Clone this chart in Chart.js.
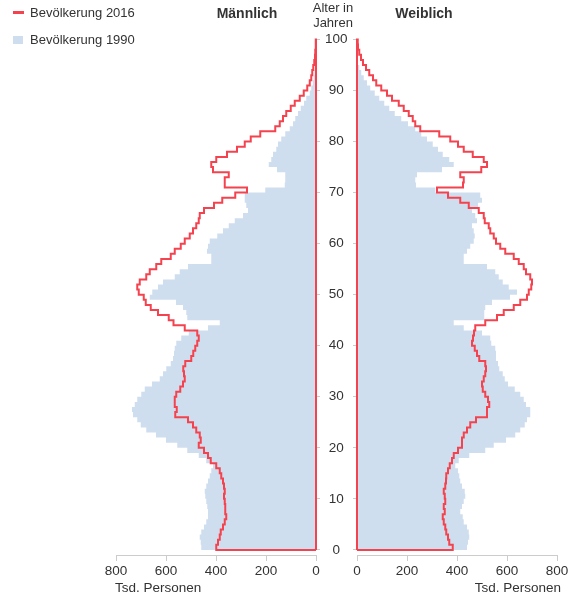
<!DOCTYPE html>
<html><head><meta charset="utf-8">
<script src="https://cdn.jsdelivr.net/npm/chart.js@4/dist/chart.umd.min.js"></script>
<style>
body{margin:0;background:#fff;}
#wrap{position:relative;width:571px;height:595px;font-family:"Liberation Sans",Arial,sans-serif;color:#333;overflow:hidden;}
canvas{position:absolute;left:0;top:0;}
.t{position:absolute;white-space:nowrap;font-size:13px;line-height:16px;}
.c{transform:translateX(-50%);}
.b{font-weight:bold;font-size:14px;}
</style></head><body>
<div id="wrap">
<canvas id="left" width="571" height="595"></canvas>
<canvas id="right" width="571" height="595"></canvas>
<div style="position:absolute;left:13px;top:11px;width:11px;height:3px;background:rgb(244,67,78)"></div>
<div class="t" style="left:30px;top:5px;">Bevölkerung 2016</div>
<div style="position:absolute;left:13px;top:36px;width:10px;height:8px;background:rgb(207,222,238)"></div>
<div class="t" style="left:30px;top:32px;">Bevölkerung 1990</div>
<div class="t b c" style="left:247px;top:5px;">Männlich</div>
<div class="t b c" style="left:424px;top:5px;">Weiblich</div>
<div class="t c" style="left:333px;top:0px;">Alter in</div>
<div class="t c" style="left:333px;top:15px;">Jahren</div>
<div class="t" style="left:115px;top:580px;font-size:13.5px;">Tsd. Personen</div>
<div class="t" style="right:10px;top:580px;font-size:13.5px;">Tsd. Personen</div>
</div>
<script>
// Age categories (years)
const ages = [0,1,2,3,4,5,6,7,8,9,10,11,12,13,14,15,16,17,18,19,20,21,22,23,24,25,26,27,28,29,30,31,32,33,34,35,36,37,38,39,40,41,42,43,44,45,46,47,48,49,50,51,52,53,54,55,56,57,58,59,60,61,62,63,64,65,66,67,68,69,70,71,72,73,74,75,76,77,78,79,80,81,82,83,84,85,86,87,88,89,90,91,92,93,94,95,96,97,98,99];
const topAge = 100;
// Values in thousand persons, index = age
const male2016 = [399,392,385,381,372,365,359,363,363,365,368,365,368,372,379,385,399,421,432,448,469,461,465,479,492,512,563,557,565,565,559,543,532,525,528,531,523,499,491,483,475,469,475,525,570,589,632,661,681,689,709,715,705,679,665,639,619,581,565,541,525,505,492,479,469,465,448,408,375,323,276,365,365,349,412,419,399,356,316,285,261,223,163,145,132,119,101,85,65,49,35,25,19,15,11,7,4,3,1,1];
const male1990 = [459,461,465,459,448,439,432,432,435,439,443,445,439,432,425,419,412,439,469,515,555,600,640,679,701,715,732,736,725,715,699,685,656,625,612,599,581,572,568,565,559,539,509,432,385,515,519,532,560,665,655,632,612,565,545,512,419,419,436,432,425,395,372,349,325,292,272,279,285,285,203,125,123,123,156,189,179,172,159,152,139,123,105,92,83,72,61,48,39,25,19,13,9,6,4,3,2,1,1,0];
const female2016 = [383,369,364,357,353,347,343,351,347,353,351,347,353,356,357,364,371,380,387,404,420,420,427,440,453,476,520,520,529,524,513,503,500,507,513,516,513,489,480,471,460,464,468,473,513,560,587,627,653,680,687,697,700,693,676,667,647,627,593,573,556,547,533,527,511,507,487,447,413,364,320,424,427,413,497,520,507,463,427,404,373,329,253,233,223,207,187,167,140,120,97,77,64,49,36,24,16,9,4,3];
const female1990 = [440,444,449,447,440,427,423,413,420,427,433,431,420,413,409,404,393,407,449,513,547,596,633,653,671,680,693,693,676,667,653,631,604,591,583,569,564,556,556,553,537,533,500,427,387,509,509,513,540,612,640,607,583,567,553,520,427,427,440,453,467,471,467,460,480,473,460,484,500,493,313,236,233,240,340,387,369,343,324,303,280,257,233,204,177,151,129,109,89,71,53,40,27,17,9,4,3,2,1,0.5];
// Tick labels
const xTicks = [0,200,400,600,800];
const yTicks = [0,10,20,30,40,50,60,70,80,90,100];

const RED = 'rgb(244,67,78)';
const BLUE = 'rgb(207,222,238)';
const FONT = {family:'"Liberation Sans", Arial, sans-serif', size:13.5};

// Closed outline of a half pyramid: along x = 0 axis and the age steps
function poly(vals){
  const pts = [{x:0, y:ages[0]}];
  vals.forEach((v,i)=>pts.push({x:v, y:ages[i]}));
  pts.push({x:vals[vals.length-1], y:topAge});
  pts.push({x:0, y:topAge});
  pts.push({x:0, y:ages[0]});
  return pts;
}

function cfg(isLeft){
  const v16 = isLeft ? male2016 : female2016;
  const v90 = isLeft ? male1990 : female1990;
  return {
    type:'line',
    data:{datasets:[
      {label:'Bevölkerung 2016', data:poly(v16), stepped:'after', borderColor:RED, borderWidth:2,
       fill:false, pointRadius:0, pointHoverRadius:0, clip:6, order:0},
      {label:'Bevölkerung 1990', data:poly(v90), stepped:'after', borderColor:'rgba(0,0,0,0)', borderWidth:0,
       backgroundColor:BLUE, fill:'shape', pointRadius:0, pointHoverRadius:0, clip:6, order:1}
    ]},
    options:{
      responsive:false, animation:false, events:[],
      layout:{padding: isLeft ? {left:116,right:214,top:39.5,bottom:0} : {left:351,right:14,top:39.5,bottom:0}},
      plugins:{legend:{display:false}, tooltip:{enabled:false}},
      scales:{
        x:{type:'linear', position:'bottom', reverse:isLeft, min:0, max:800,
           afterBuildTicks:s=>{s.ticks = xTicks.map(v=>({value:v}));},
           afterFit:s=>{s.height = 40;},
           grid:{drawOnChartArea:false, drawTicks:true, tickLength:6, color:'#cccccc'},
           border:{display:true, color:'#cccccc'},
           ticks:{font:FONT, color:'#333', padding:2, maxRotation:0, autoSkip:false}},
        y:{type:'linear', position:isLeft ? 'right' : 'left', min:-1, max:topAge,
           afterBuildTicks:s=>{s.ticks = yTicks.map(v=>({value:v}));},
           afterFit:s=>{s.width = isLeft ? 41 : 6;},
           grid:{drawOnChartArea:false, drawTicks:true, tickLength:4, color:'#cccccc'},
           border:{display:false},
           ticks:{font:FONT, color:'#333', padding:5, crossAlign:'center', autoSkip:false,
                  callback: isLeft ? (v=>String(v)) : (()=>'')}}
      }
    }
  };
}
new Chart(document.getElementById('left'), cfg(true));
new Chart(document.getElementById('right'), cfg(false));
</script>
</body></html>
